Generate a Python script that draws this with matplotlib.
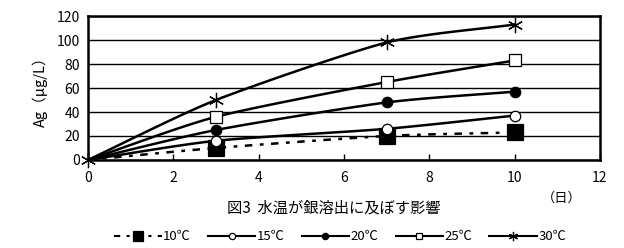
import numpy as np
import matplotlib.pyplot as plt
from matplotlib.lines import Line2D

plt.rcParams['font.family'] = ['Noto Sans CJK JP', 'DejaVu Sans']

days = [0, 3, 7, 10]
ag_10 = [0, 10, 20, 23]
ag_15 = [0, 16, 26, 37]
ag_20 = [0, 25, 48, 57]
ag_25 = [0, 36, 65, 83]
ag_30 = [0, 50, 98, 113]
labels = ['10℃', '15℃', '20℃', '25℃', '30℃']


def smooth(x, y, n=30, tension=0.35):
    # loose catmull-rom curve through the points, like Excel's smoothed line
    x = np.asarray(x, float)
    y = np.asarray(y, float)
    px = np.concatenate([[2 * x[0] - x[1]], x, [2 * x[-1] - x[-2]]])
    py = np.concatenate([[2 * y[0] - y[1]], y, [2 * y[-1] - y[-2]]])
    xs, ys = [], []
    t = np.linspace(0, 1, n)
    h00 = 2 * t ** 3 - 3 * t ** 2 + 1
    h10 = t ** 3 - 2 * t ** 2 + t
    h01 = -2 * t ** 3 + 3 * t ** 2
    h11 = t ** 3 - t ** 2
    for i in range(1, len(px) - 2):
        for p, out in ((px, xs), (py, ys)):
            p0, p1, p2, p3 = p[i - 1:i + 3]
            m1 = tension * (p2 - p0)
            m2 = tension * (p3 - p1)
            out.extend(h00 * p1 + h10 * m1 + h01 * p2 + h11 * m2)
    return xs, ys


fig = plt.figure(figsize=(6.24, 2.48), dpi=100)
ax = fig.add_axes([0.141, 0.355, 0.8205, 0.58])

styles = [
    dict(ls=(0, (3, 3, 1.5, 3)), marker='s', ms=12, mfc='black', mec='black'),
    dict(ls='-', marker='o', ms=7.5, mfc='white', mec='black'),
    dict(ls='-', marker='o', ms=7.5, mfc='black', mec='black'),
    dict(ls='-', marker='s', ms=8, mfc='white', mec='black'),
    dict(ls='-', marker=(6, 2, 0), ms=11, mfc='none', mec='black'),
]
series = [ag_10, ag_15, ag_20, ag_25, ag_30]

handles = []
for k, (vals, st) in enumerate(zip(series, styles)):
    sx, sy = smooth(days, vals)
    ax.plot(sx, sy, color='black', lw=1.8, ls=st['ls'], zorder=3)
    every = [0, 1, 2, 3] if k == 4 else [1, 2, 3]
    ax.plot(days, vals, ls='none', marker=st['marker'], ms=st['ms'],
            mfc=st['mfc'], mec=st['mec'], mew=0.9, markevery=every,
            clip_on=False, zorder=4)
    handles.append(Line2D([], [], color='black', lw=1.5, ls=st['ls'],
                          marker=st['marker'], ms=st['ms'] * 0.6,
                          mfc=st['mfc'], mec=st['mec'], mew=0.9))

ax.set_xlim(0, 12)
ax.set_ylim(0, 120)
ax.set_xticks(range(0, 13, 2))
ax.set_yticks(range(0, 121, 20))
ax.yaxis.grid(True, color='black', lw=1)
ax.set_axisbelow(True)
for s in ax.spines.values():
    s.set_linewidth(1.8)
ax.tick_params(axis='x', direction='in', length=4, width=1, labelsize=10, pad=8)
ax.tick_params(axis='y', length=0, labelsize=10, pad=6)
ax.set_ylabel('Ag（μg/L）', fontsize=10.5, labelpad=6)

fig.text(0.535, 0.16, '図3  水温が銀溶出に及ぼす影響', ha='center', va='center', fontsize=11)
fig.text(0.9, 0.2, '（日）', ha='center', va='center', fontsize=9.5)

fig.legend(handles, labels, loc='center', bbox_to_anchor=(0.545, 0.045), ncol=5,
           frameon=False, fontsize=9.5, handlelength=3.6, handletextpad=0.1,
           columnspacing=1.3)

fig.savefig('out.png', dpi=100)
